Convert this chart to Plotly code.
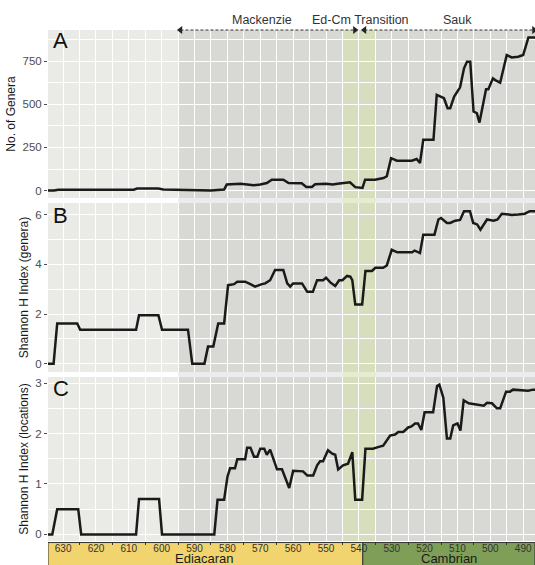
import plotly.graph_objects as go

# ---------------- data (ages in Ma) ----------------
AGE_A = [634.6, 632.8, 631.5, 608.5, 607.5, 601.0, 599.5, 595.0, 592.0, 585.0,
         582.0, 581.0, 580.2, 576.0, 572.0, 570.0, 568.0, 566.5, 563.0, 561.4,
         557.4, 556.0, 554.3, 553.3, 550.0, 548.0, 546.5, 544.7, 542.7, 541.1,
         539.6, 538.9, 538.1, 535.1, 532.5, 531.5, 530.2, 528.4, 523.9, 522.4,
         521.4, 520.4, 517.3, 516.3, 514.1, 513.0, 512.2, 511.0, 509.2, 508.0,
         507.1, 506.1, 505.1, 504.1, 503.3, 501.3, 500.6, 499.2, 498.5, 497.0,
         495.0, 493.5, 491.5, 490.0, 488.4, 486.4]
GENERA = [0, 0, 5, 5, 12, 12, 6, 4, 0, 1,
          5, 6, 35, 40, 31, 35, 44, 63, 63, 44,
          42, 21, 21, 37, 40, 35, 40, 44, 48, 20,
          15, 15, 63, 63, 73, 83, 188, 173, 173, 183,
          160, 294, 294, 554, 535, 477, 477, 544, 598, 708,
          746, 746, 458, 448, 394, 587, 587, 650, 640, 625,
          785, 771, 775, 785, 887, 887]

AGE_B = [634.6, 632.9, 631.8, 625.7, 624.8, 607.8, 606.9, 601.0, 599.9, 592.0,
         590.7, 587.0, 585.9, 584.3, 582.8, 581.0, 579.8, 578.0, 577.0, 574.6,
         573.0, 571.6, 569.5, 568.5, 567.0, 565.5, 563.0, 561.8, 560.9, 560.0,
         557.3, 555.7, 554.0, 552.7, 550.9, 550.0, 548.7, 547.2, 546.0, 545.0,
         543.6, 542.6, 542.0, 541.1, 539.0, 538.0, 536.0, 535.0, 532.6, 531.5,
         530.0, 528.3, 523.8, 523.0, 521.4, 520.4, 517.0, 515.8, 515.0, 513.2,
         512.2, 510.7, 509.2, 508.0, 506.2, 505.2, 504.0, 503.0, 501.0, 499.0,
         497.8, 496.5, 494.4, 493.5, 491.5, 489.5, 488.0, 486.4]
H_GENERA = [0, 0, 1.62, 1.62, 1.37, 1.37, 1.95, 1.95, 1.37, 1.37,
            0, 0, 0.69, 0.69, 1.62, 1.62, 3.16, 3.2, 3.3, 3.3,
            3.2, 3.1, 3.2, 3.23, 3.36, 3.77, 3.77, 3.23, 3.1, 3.23,
            3.23, 2.89, 2.89, 3.36, 3.36, 3.46, 3.27, 3.13, 3.36, 3.36,
            3.53, 3.5, 3.36, 2.38, 2.38, 3.73, 3.73, 3.86, 3.86, 3.95,
            4.58, 4.48, 4.48, 4.55, 4.45, 5.19, 5.19, 5.8, 5.86, 5.66,
            5.66, 5.75, 5.78, 6.13, 6.13, 5.66, 5.6, 5.39, 5.8, 5.75,
            5.8, 6.03, 6.0, 5.98, 6.0, 6.03, 6.13, 6.13]

AGE_C = [634.6, 633.3, 631.8, 625.4, 624.5, 607.8, 606.9, 600.8, 599.9, 584.0,
         583.0, 581.0, 580.0, 579.2, 577.7, 577.0, 574.6, 574.0, 573.0, 571.9,
         570.9, 570.0, 568.8, 568.0, 567.0, 564.9, 563.4, 561.2, 560.0, 557.9,
         557.0, 555.7, 553.9, 552.7, 551.8, 550.9, 549.4, 548.1, 547.2, 546.3,
         544.8, 543.3, 542.0, 541.1, 539.0, 538.0, 535.7, 534.2, 532.6, 530.5,
         529.0, 528.0, 526.5, 525.0, 524.0, 522.9, 522.0, 521.0, 520.0, 517.4,
         516.2, 515.5, 514.3, 513.2, 512.2, 511.3, 510.0, 509.1, 508.1, 506.6,
         504.5, 502.0, 501.0, 499.5, 498.0, 497.0, 495.2, 494.0, 493.1, 488.5,
         487.0, 486.4]
H_LOC = [0, 0, 0.5, 0.5, 0, 0, 0.7, 0.7, 0, 0,
         0.69, 0.69, 1.14, 1.31, 1.31, 1.49, 1.49, 1.72, 1.72, 1.54,
         1.54, 1.7, 1.7, 1.58, 1.68, 1.29, 1.29, 0.92, 1.26, 1.26,
         1.25, 1.17, 1.17, 1.37, 1.45, 1.45, 1.67, 1.6, 1.58, 1.29,
         1.37, 1.4, 1.63, 0.69, 0.69, 1.7, 1.7, 1.73, 1.76, 1.96,
         1.98, 2.03, 2.03, 2.12, 2.14, 2.2, 2.2, 2.07, 2.42, 2.42,
         2.94, 2.97, 2.71, 1.9, 1.9, 2.16, 2.2, 2.06, 2.66, 2.6,
         2.58, 2.55, 2.61, 2.6, 2.5, 2.5, 2.83, 2.83, 2.87, 2.85,
         2.87, 2.87]

PANEL_LETTERS = ["A", "B", "C"]
Y_TITLES = ["No. of Genera", "Shannon H Index (genera)", "Shannon H Index (locations)"]

PERIODS = ["Ediacaran", "Cambrian"]
PERIOD_START = [635.0, 538.8]
PERIOD_END = [538.8, 486.4]
PERIOD_COLORS = ["#F2D46F", "#7F9F58"]

INTERVALS = ["Mackenzie", "Ed-Cm Transition", "Sauk"]
INTERVAL_LABEL_X = [569.4, 539.6, 510.1]
MACKENZIE = [594.3, 541.2]
SAUK = [538.3, 486.7]
TRANSITION = [545.0, 535.0]
SHADE_START = 595.0

# ---------------- layout constants ----------------
X_RANGE = [634.6, 486.4]
FONT = "Liberation Sans, Arial, sans-serif"
DOMAINS = [[0.6712, 1.0], [0.3307, 0.6614], [0.0, 0.3209]]
Y_RANGES = [[-43, 930], [-0.33, 6.46], [-0.13, 3.12]]
Y_DTICK = [250, 2, 1]
LINE_COLOR = "#1a1a1a"
DARK = "rgba(0,0,0,0.075)"
GREEN = "rgba(212,235,140,0.30)"

fig = go.Figure()
series = [(AGE_A, GENERA), (AGE_B, H_GENERA), (AGE_C, H_LOC)]
yaxes = ["y", "y2", "y3"]
for (xs, ys), ya in zip(series, yaxes):
    fig.add_trace(go.Scatter(x=xs, y=ys, xaxis="x", yaxis=ya, mode="lines",
                             line=dict(color=LINE_COLOR, width=2.5),
                             hoverinfo="skip", showlegend=False))

# arrow heads of the interval brackets
fig.add_trace(go.Scatter(
    x=[MACKENZIE[0], MACKENZIE[1], SAUK[0], SAUK[1]],
    y=[Y_RANGES[0][1]] * 4, xaxis="x", yaxis="y", mode="markers",
    marker=dict(symbol=["triangle-left", "triangle-right", "triangle-left", "triangle-right"],
                size=7, color="#222222", line=dict(width=0)),
    cliponaxis=False, hoverinfo="skip", showlegend=False))

shapes = []
# shading over all panels and the gaps between them
shapes.append(dict(type="rect", xref="x", yref="paper", x0=SHADE_START, x1=X_RANGE[1],
                   y0=0, y1=1, fillcolor=DARK, line=dict(width=0), layer="below"))
shapes.append(dict(type="rect", xref="x", yref="paper", x0=TRANSITION[0], x1=TRANSITION[1],
                   y0=0, y1=1, fillcolor=GREEN, line=dict(width=0), layer="below"))
# geologic period bar
for name, s, e, c in zip(PERIODS, PERIOD_START, PERIOD_END, PERIOD_COLORS):
    shapes.append(dict(type="rect", xref="x", yref="paper", x0=min(s, X_RANGE[0]), x1=e,
                       y0=-0.003, y1=-0.08, fillcolor=c, line=dict(color="#333333", width=1),
                       layer="below"))
# dashed bracket lines
for a, b in [MACKENZIE, SAUK]:
    shapes.append(dict(type="line", xref="x", yref="paper", x0=a, x1=b, y0=1.0, y1=1.0,
                       line=dict(color="#333333", width=1, dash="3px,2px"), layer="above"))

annotations = []
for name, s, e in zip(PERIODS, PERIOD_START, PERIOD_END):
    annotations.append(dict(text=name, x=(s + e) / 2, xref="x", y=-0.034, yref="paper",
                            showarrow=False, xanchor="center", yanchor="middle",
                            font=dict(size=13, color="#1a1a1a", family=FONT)))
for name, x in zip(INTERVALS, INTERVAL_LABEL_X):
    annotations.append(dict(text=name, x=x, xref="x", y=1.0196, yref="paper",
                            showarrow=False, xanchor="center", yanchor="middle",
                            font=dict(size=12.5, color="#333333", family=FONT)))
LETTER_Y = [0.9804, 0.637, 0.2984]
for letter, yy in zip(PANEL_LETTERS, LETTER_Y):
    annotations.append(dict(text=letter, x=0.006, xref="paper", y=yy, yref="paper",
                            showarrow=False, xanchor="left", yanchor="middle",
                            font=dict(size=22, color="#111111", family=FONT)))

layout = dict(
    width=535, height=565,
    margin=dict(l=48, r=0, t=30, b=24),
    paper_bgcolor="white", plot_bgcolor="#EAEAE6",
    font=dict(family=FONT, color="#4d4d4d"),
    shapes=shapes, annotations=annotations, showlegend=False,
    xaxis=dict(domain=[0, 1], anchor="y3", range=X_RANGE, autorange=False, automargin=False,
               tickmode="linear", tick0=630, dtick=10, ticks="",
               tickfont=dict(size=10, color="#333333"),
               showgrid=True, gridcolor="white", gridwidth=1.2, zeroline=False,
               showline=False,
               minor=dict(dtick=5, tick0=630, ticks="outside", ticklen=3, tickcolor="#333333",
                          showgrid=True, gridcolor="white", gridwidth=0.6)),
)
for i, ya in enumerate(yaxes):
    key = "yaxis" if i == 0 else f"yaxis{i + 1}"
    layout[key] = dict(
        domain=DOMAINS[i], anchor="x", range=Y_RANGES[i], autorange=False, automargin=False,
        tickmode="linear", tick0=0, dtick=Y_DTICK[i],
        ticks="outside", ticklen=3, tickcolor="#4d4d4d", tickwidth=1,
        tickfont=dict(size=11.5, color="#4d4d4d"),
        showgrid=True, gridcolor="white", gridwidth=1.2, zeroline=False, showline=False,
        minor=dict(dtick=Y_DTICK[i] / 2, tick0=0, showgrid=True, gridcolor="white", gridwidth=0.6),
        title=dict(text=Y_TITLES[i], font=dict(size=12, color="#1a1a1a"), standoff=4),
    )

fig.update_layout(**layout)
fig.write_html("out.html", config={"displayModeBar": False},
               post_script="document.body.style.margin='0';")
